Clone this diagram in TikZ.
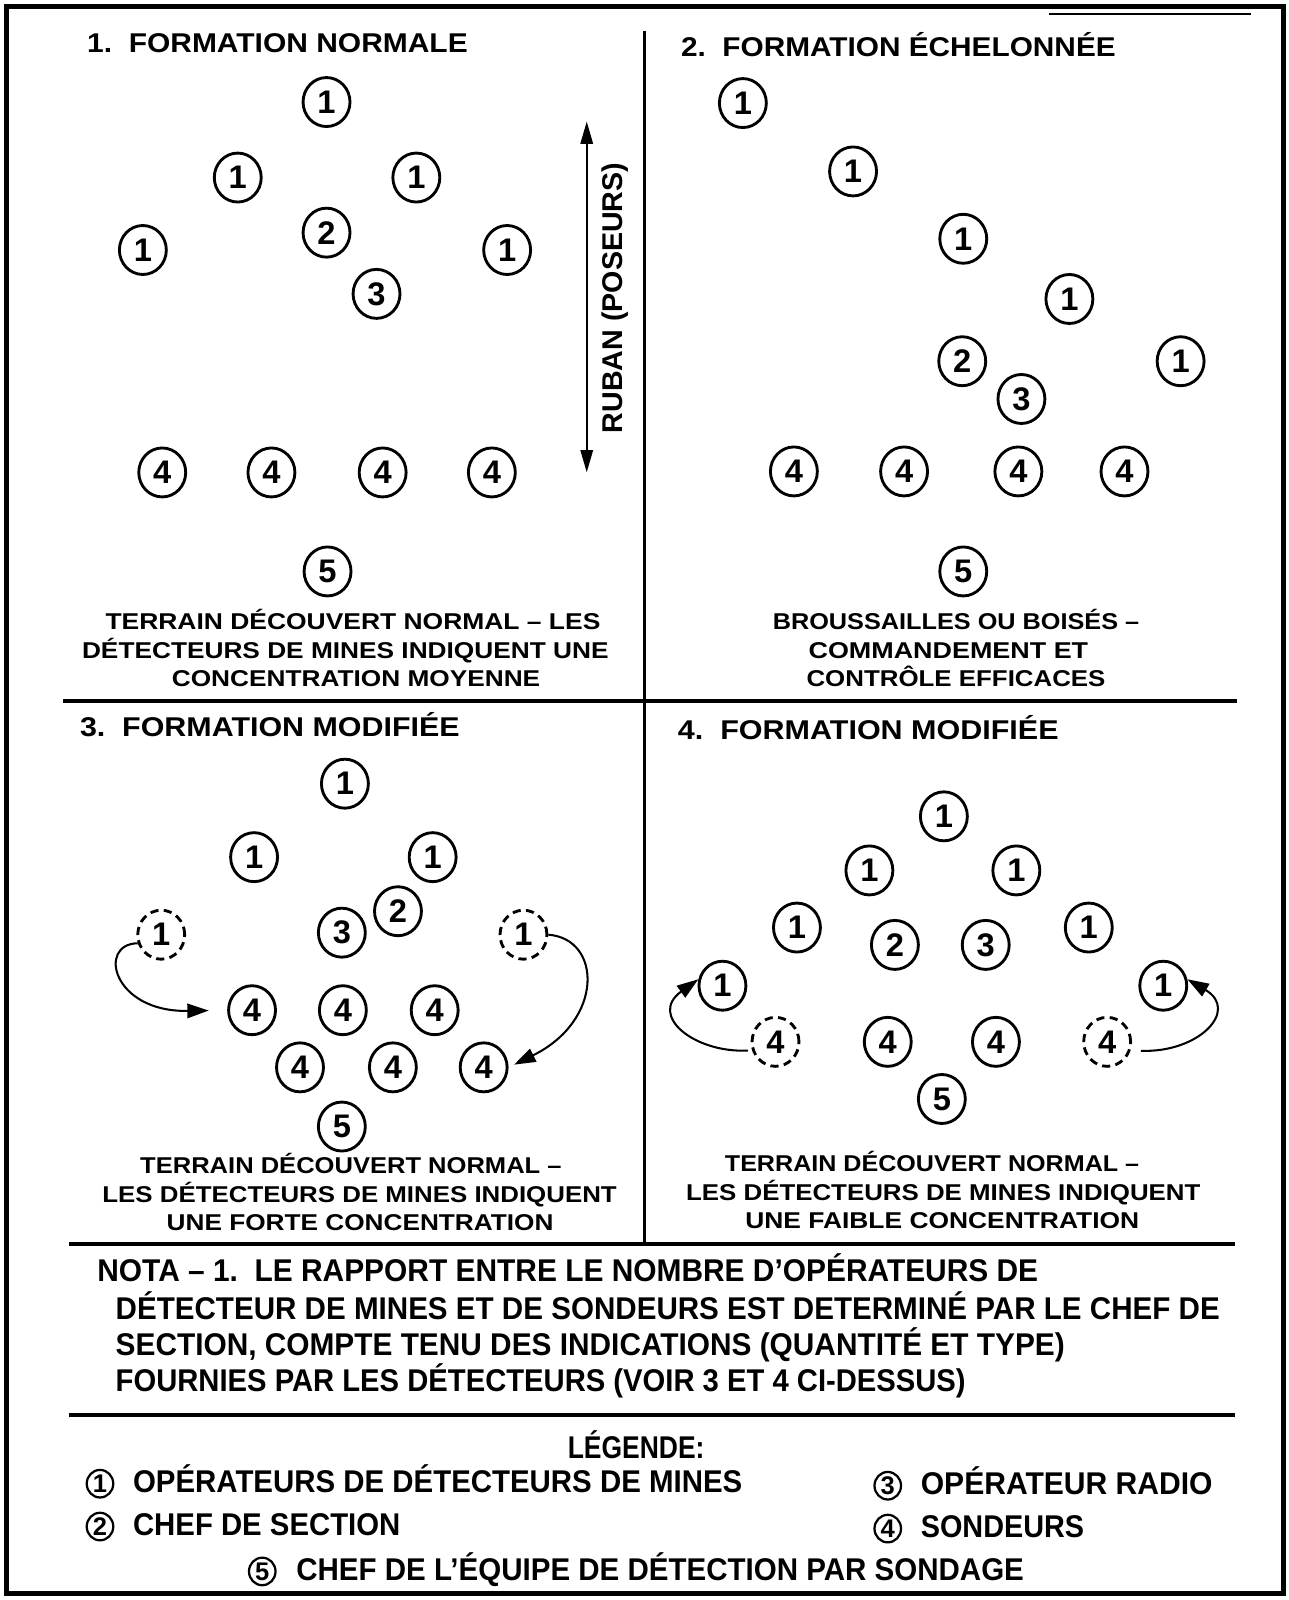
\documentclass[tikz,border=0pt]{standalone}
\usepackage{fontspec}
\setmainfont{Liberation Sans}
\usepackage{graphicx}
\usetikzlibrary{arrows.meta,shapes.geometric}
\newcommand{\fw}[2]{\resizebox{#1}{\height}{#2}}
\newcommand{\myttl}{\fontsize{13.3}{14}\selectfont\bfseries}
\newcommand{\mycap}{\fontsize{11.2}{12}\selectfont\bfseries}
\newcommand{\mynota}{\fontsize{15.4}{16}\selectfont\bfseries}
\tikzset{
  op/.style={ellipse, draw, line width=1.4pt, minimum width=23pt, minimum height=24pt,
    inner sep=0pt, font=\fontsize{16}{16}\selectfont\bfseries},
  opd/.style={op, dash pattern=on 4pt off 2.6pt},
  leg/.style={ellipse, draw, line width=1.1pt, minimum width=13pt, minimum height=13.5pt,
    inner sep=0pt, font=\fontsize{12.5}{12.5}\selectfont\bfseries},
  txt/.style={inner sep=0pt, anchor=base west},
  rule/.style={line width=1.8pt},
  arr/.style={line width=1pt, -{Triangle[length=10.5pt,width=7pt]}},
  dbl/.style={line width=1.2pt, {Triangle[length=11pt,width=6pt]}-{Triangle[length=11pt,width=6pt]}},
}
\begin{document}
\begin{tikzpicture}[x=0.5pt,y=-0.5pt]
\useasboundingbox (0,0) rectangle (1263,1568);
% frame and rules
\draw[line width=2.5pt] (6,6) rectangle (1258,1562);
\draw[line width=0.8pt] (1028,14) -- (1226,14);
\draw[line width=1.5pt] (632,30) -- (632,1218);
\draw[rule] (62,687) -- (1212,687);
\draw[rule] (68,1219) -- (1210,1219);
\draw[rule] (68,1387) -- (1210,1387);

% ---------- Panel 1
\node[txt] (t1) at (85,51) {\fw{186.5pt}{\myttl 1.\ \ FORMATION NORMALE}};
\node[op] (a1) at (320,100) {1};
\node[op] (a2) at (233,174) {1};
\node[op] (a3) at (408,174) {1};
\node[op] (a4) at (140,245) {1};
\node[op] (a5) at (497,245) {1};
\node[op] (a6) at (320,228) {2};
\node[op] (a7) at (369,288) {3};
\node[op] (a8) at (159,463) {4};
\node[op] (a9) at (266,463) {4};
\node[op] (a10) at (375,463) {4};
\node[op] (a11) at (482,463) {4};
\node[op] (a12) at (321,560) {5};
\coordinate (rt) at (575,119);
\coordinate (rb) at (575,463);
\draw[dbl] (rt) -- (rb);
\node[inner sep=0pt, rotate=90] (rub) at (603,292) {\fw{132.5pt}{\fontsize{14}{14}\selectfont\bfseries RUBAN (POSEURS)}};
\node[txt] (c1a) at (103,617) {\fw{242.5pt}{\mycap TERRAIN DÉCOUVERT NORMAL – LES}};
\node[txt] (c1b) at (80,645) {\fw{258pt}{\mycap DÉTECTEURS DE MINES INDIQUENT UNE}};
\node[txt] (c1c) at (168,673) {\fw{180.5pt}{\mycap CONCENTRATION MOYENNE}};

% ---------- Panel 2
\node[txt] (t2) at (667,55) {\fw{213pt}{\myttl 2.\ \ FORMATION ÉCHELONNÉE}};
\node[op] (b1) at (728,101) {1};
\node[op] (b2) at (836,168) {1};
\node[op] (b3) at (944,234) {1};
\node[op] (b4) at (1048,293) {1};
\node[op] (b5) at (1157,354) {1};
\node[op] (b6) at (943,354) {2};
\node[op] (b7) at (1001,391) {3};
\node[op] (b8) at (778,462) {4};
\node[op] (b9) at (886,462) {4};
\node[op] (b10) at (998,462) {4};
\node[op] (b11) at (1102,462) {4};
\node[op] (b12) at (944,560) {5};
\node[txt] (c2a) at (757,617) {\fw{179.5pt}{\mycap BROUSSAILLES OU BOISÉS –}};
\node[txt] (c2b) at (792,645) {\fw{137pt}{\mycap COMMANDEMENT ET}};
\node[txt] (c2c) at (790,673) {\fw{146.5pt}{\mycap CONTRÔLE EFFICACES}};

% ---------- Panel 3
\node[txt] (t3) at (78,722) {\fw{186pt}{\myttl 3.\ \ FORMATION MODIFIÉE}};
\node[op] (c1) at (338,768) {1};
\node[op] (c2) at (249,840) {1};
\node[op] (c3) at (424,840) {1};
\node[op] (c4) at (390,893) {2};
\node[op] (c5) at (335,914) {3};
\node[opd] (cd1) at (158,916) {1};
\node[opd] (cd2) at (513,916) {1};
\node[op] (c6) at (247,990) {4};
\node[op] (c7) at (336,990) {4};
\node[op] (c8) at (426,990) {4};
\node[op] (c9) at (294,1046) {4};
\node[op] (c10) at (385,1046) {4};
\node[op] (c11) at (474,1046) {4};
\node[op] (c12) at (335,1104) {5};
\draw[arr, shorten >=9pt] (cd1.200) .. controls (95,925) and (110,992) .. (c6.west);
\draw[arr, shorten >=3pt] (cd2.east) .. controls (590,920) and (592,1000) .. (c11.east);
\node[txt] (c3a) at (137,1150) {\fw{206.5pt}{\mycap TERRAIN DÉCOUVERT NORMAL –}};
\node[txt] (c3b) at (100,1178) {\fw{252pt}{\mycap LES DÉTECTEURS DE MINES INDIQUENT}};
\node[txt] (c3c) at (163,1206) {\fw{189.5pt}{\mycap UNE FORTE CONCENTRATION}};

% ---------- Panel 4
\node[txt] (t4) at (664,725) {\fw{186.5pt}{\myttl 4.\ \ FORMATION MODIFIÉE}};
\node[op] (d1) at (925,800) {1};
\node[op] (d2) at (852,853) {1};
\node[op] (d3) at (996,853) {1};
\node[op] (d4) at (781,909) {1};
\node[op] (d5) at (1067,909) {1};
\node[op] (d6) at (877,926) {2};
\node[op] (d7) at (966,926) {3};
\node[op] (d8) at (708,966) {1};
\node[op] (d9) at (1140,966) {1};
\node[opd] (dd1) at (760,1021) {4};
\node[op] (d10) at (870,1021) {4};
\node[op] (d11) at (976,1021) {4};
\node[opd] (dd2) at (1085,1021) {4};
\node[op] (d12) at (923,1077) {5};
\draw[arr, shorten <=2pt] (dd1.200) .. controls (680,1032) and (635,995) .. (d8.165);
\draw[arr, shorten <=5pt] (dd2.340) .. controls (1175,1032) and (1215,990) .. (d9.15);
\node[txt] (c4a) at (710,1148) {\fw{203pt}{\mycap TERRAIN DÉCOUVERT NORMAL –}};
\node[txt] (c4b) at (672,1176) {\fw{252pt}{\mycap LES DÉTECTEURS DE MINES INDIQUENT}};
\node[txt] (c4c) at (730,1204) {\fw{193pt}{\mycap UNE FAIBLE CONCENTRATION}};

% ---------- NOTA
\node[txt] (n1) at (95,1256) {\fw{461pt}{\mynota NOTA – 1.\ \ LE RAPPORT ENTRE LE NOMBRE D’OPÉRATEURS DE}};
\node[txt] (n2) at (113,1293) {\fw{541pt}{\mynota DÉTECTEUR DE MINES ET DE SONDEURS EST DETERMINÉ PAR LE CHEF DE}};
\node[txt] (n3) at (113,1328) {\fw{465pt}{\mynota SECTION, COMPTE TENU DES INDICATIONS (QUANTITÉ ET TYPE)}};
\node[txt] (n4) at (113,1364) {\fw{416.5pt}{\mynota FOURNIES PAR LES DÉTECTEURS (VOIR 3 ET 4 CI-DESSUS)}};

% ---------- LEGENDE
\node[txt] (lg) at (556,1429) {\fw{67pt}{\mynota LÉGENDE:}};
\node[leg] (l1) at (98,1454) {1};
\node[txt] (l1t) at (130,1463) {\fw{298.5pt}{\mynota OPÉRATEURS DE DÉTECTEURS DE MINES}};
\node[leg] (l3) at (870,1456) {3};
\node[txt] (l3t) at (902,1465) {\fw{143pt}{\mynota OPÉRATEUR RADIO}};
\node[leg] (l2) at (98,1496) {2};
\node[txt] (l2t) at (130,1505) {\fw{131pt}{\mynota CHEF DE SECTION}};
\node[leg] (l4) at (870,1498) {4};
\node[txt] (l4t) at (902,1507) {\fw{80pt}{\mynota SONDEURS}};
\node[leg] (l5) at (257,1540) {5};
\node[txt] (l5t) at (290,1549) {\fw{356.5pt}{\mynota CHEF DE L’ÉQUIPE DE DÉTECTION PAR SONDAGE}};
\end{tikzpicture}
\end{document}
